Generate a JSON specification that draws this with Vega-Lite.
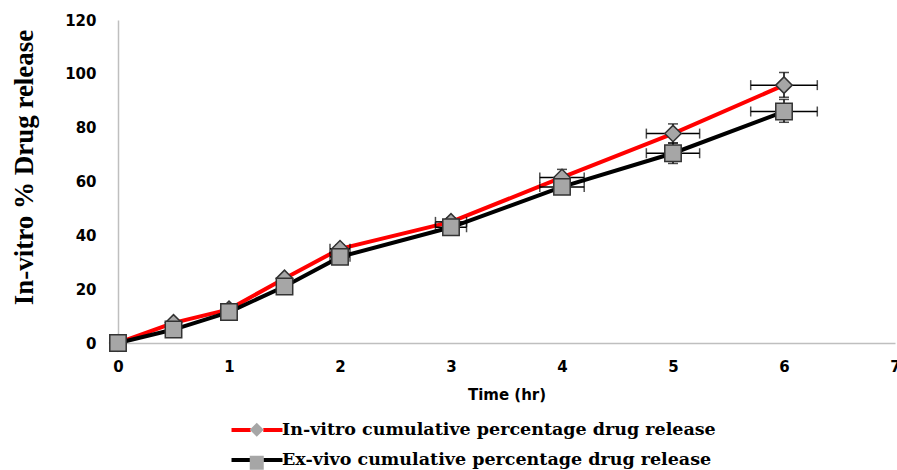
{
  "$schema": "https://vega.github.io/schema/vega-lite/v6.json",
  "width": 777,
  "height": 323,
  "autosize": "none",
  "padding": {"left": 118, "top": 20, "right": 2, "bottom": 127},
  "background": "white",
  "config": {"view": {"stroke": null}},
  "data": {
    "values": [
      {"series": "In-vitro cumulative percentage drug release", "time": 0, "value": 0},
      {"series": "In-vitro cumulative percentage drug release", "time": 0.5, "value": 7.5},
      {"series": "In-vitro cumulative percentage drug release", "time": 1, "value": 12.5},
      {"series": "In-vitro cumulative percentage drug release", "time": 1.5, "value": 24},
      {"series": "In-vitro cumulative percentage drug release", "time": 2, "value": 35, "tlo": 1.91, "thi": 2.09, "vlo": 33.5, "vhi": 36.5},
      {"series": "In-vitro cumulative percentage drug release", "time": 3, "value": 45, "tlo": 2.86, "thi": 3.14, "vlo": 43.5, "vhi": 46.5},
      {"series": "In-vitro cumulative percentage drug release", "time": 4, "value": 61.5, "tlo": 3.8, "thi": 4.2, "vlo": 58.5, "vhi": 64.5},
      {"series": "In-vitro cumulative percentage drug release", "time": 5, "value": 77.8, "tlo": 4.76, "thi": 5.24, "vlo": 74.3, "vhi": 81.4},
      {"series": "In-vitro cumulative percentage drug release", "time": 6, "value": 95.8, "tlo": 5.7, "thi": 6.3, "vlo": 91.3, "vhi": 100.5},
      {"series": "Ex-vivo cumulative percentage drug release", "time": 0, "value": 0},
      {"series": "Ex-vivo cumulative percentage drug release", "time": 0.5, "value": 5},
      {"series": "Ex-vivo cumulative percentage drug release", "time": 1, "value": 11.5},
      {"series": "Ex-vivo cumulative percentage drug release", "time": 1.5, "value": 21},
      {"series": "Ex-vivo cumulative percentage drug release", "time": 2, "value": 32, "tlo": 1.91, "thi": 2.09, "vlo": 30.5, "vhi": 33.5},
      {"series": "Ex-vivo cumulative percentage drug release", "time": 3, "value": 43, "tlo": 2.86, "thi": 3.14, "vlo": 41.5, "vhi": 44.5},
      {"series": "Ex-vivo cumulative percentage drug release", "time": 4, "value": 58, "tlo": 3.8, "thi": 4.2, "vlo": 55.5, "vhi": 60.5},
      {"series": "Ex-vivo cumulative percentage drug release", "time": 5, "value": 70.5, "tlo": 4.76, "thi": 5.24, "vlo": 66.7, "vhi": 74.3},
      {"series": "Ex-vivo cumulative percentage drug release", "time": 6, "value": 86, "tlo": 5.7, "thi": 6.3, "vlo": 82, "vhi": 90.5}
    ]
  },
  "layer": [
    {
      "mark": {"type": "line", "strokeWidth": 4},
      "encoding": {
        "x": {
          "field": "time", "type": "quantitative", "title": "Time (hr)",
          "scale": {"domain": [0, 7], "nice": false},
          "axis": {
            "title": "Time (hr)", "values": [0, 1, 2, 3, 4, 5, 6, 7], "format": "d", "grid": false, "ticks": false,
            "domainColor": "#BFBFBF", "domainWidth": 1.5,
            "labelFont": "DejaVu Sans", "labelFontWeight": "bold", "labelFontSize": 15, "labelColor": "#000000",
            "labelPadding": 16, "labelFlush": false, "labelOverlap": false,
            "titleFont": "DejaVu Sans", "titleFontWeight": "bold", "titleFontSize": 15, "titleColor": "#000000", "titlePadding": 13
          }
        },
        "y": {
          "field": "value", "type": "quantitative", "title": "In-vitro % Drug release",
          "scale": {"domain": [0, 120], "nice": false},
          "axis": {
            "title": "In-vitro % Drug release", "values": [0, 20, 40, 60, 80, 100, 120], "format": "d", "grid": false, "ticks": false,
            "domainColor": "#BFBFBF", "domainWidth": 1.5,
            "labelFont": "DejaVu Sans", "labelFontWeight": "bold", "labelFontSize": 15, "labelColor": "#000000",
            "labelPadding": 22, "labelFlush": false, "labelOverlap": false,
            "titleFont": "Liberation Serif", "titleFontWeight": "bold", "titleFontSize": 27, "titleColor": "#000000", "titlePadding": 26,
            "titleY": 147
          }
        },
        "stroke": {
          "field": "series", "type": "nominal",
          "scale": {"domain": ["In-vitro cumulative percentage drug release", "Ex-vivo cumulative percentage drug release"], "range": ["#FF0000", "#000000"]},
          "legend": {
            "orient": "none", "legendX": 130, "legendY": 401, "title": null, "direction": "vertical", "padding": 0,
            "symbolType": "M-3.64,0H-0.9M0.9,0H3.64", "symbolSize": 196, "symbolStrokeWidth": 4,
            "labelFont": "DejaVu Serif", "labelFontWeight": "bold", "labelFontSize": 17.5, "labelColor": "#000000",
            "labelOffset": 16, "labelLimit": 700, "rowPadding": 12
          }
        }
      }
    },
    {
      "transform": [{"filter": "isValid(datum.tlo)"}],
      "mark": {"type": "errorbar", "ticks": {"size": 10}, "thickness": 1.5, "color": "#000000"},
      "encoding": {
        "x": {"field": "tlo", "type": "quantitative", "title": "Time (hr)"},
        "x2": {"field": "thi"},
        "y": {"field": "value", "type": "quantitative", "title": "In-vitro % Drug release"}
      }
    },
    {
      "transform": [{"filter": "isValid(datum.vlo)"}],
      "mark": {"type": "errorbar", "ticks": {"size": 10}, "thickness": 1.5, "color": "#000000"},
      "encoding": {
        "x": {"field": "time", "type": "quantitative", "title": "Time (hr)"},
        "y": {"field": "vlo", "type": "quantitative", "title": "In-vitro % Drug release"},
        "y2": {"field": "vhi"}
      }
    },
    {
      "mark": {"type": "point", "filled": true, "fill": "#A6A6A6", "stroke": "#333333", "strokeWidth": 1.5, "opacity": 1, "size": 270},
      "encoding": {
        "x": {"field": "time", "type": "quantitative", "title": "Time (hr)"},
        "y": {"field": "value", "type": "quantitative", "title": "In-vitro % Drug release"},
        "shape": {
          "field": "series", "type": "nominal",
          "sort": ["In-vitro cumulative percentage drug release", "Ex-vivo cumulative percentage drug release"],
          "scale": {"range": ["diamond", "square"]},
          "legend": {
            "orient": "none", "legendX": 130, "legendY": 401, "title": null, "direction": "vertical", "padding": 0,
            "symbolSize": 196, "symbolFillColor": "#A6A6A6", "symbolStrokeColor": "#333333", "symbolStrokeWidth": 1.5,
            "labelFont": "DejaVu Serif", "labelFontWeight": "bold", "labelFontSize": 17.5, "labelExpr": "''",
            "labelOffset": 16, "rowPadding": 12
          }
        }
      }
    }
  ]
}
